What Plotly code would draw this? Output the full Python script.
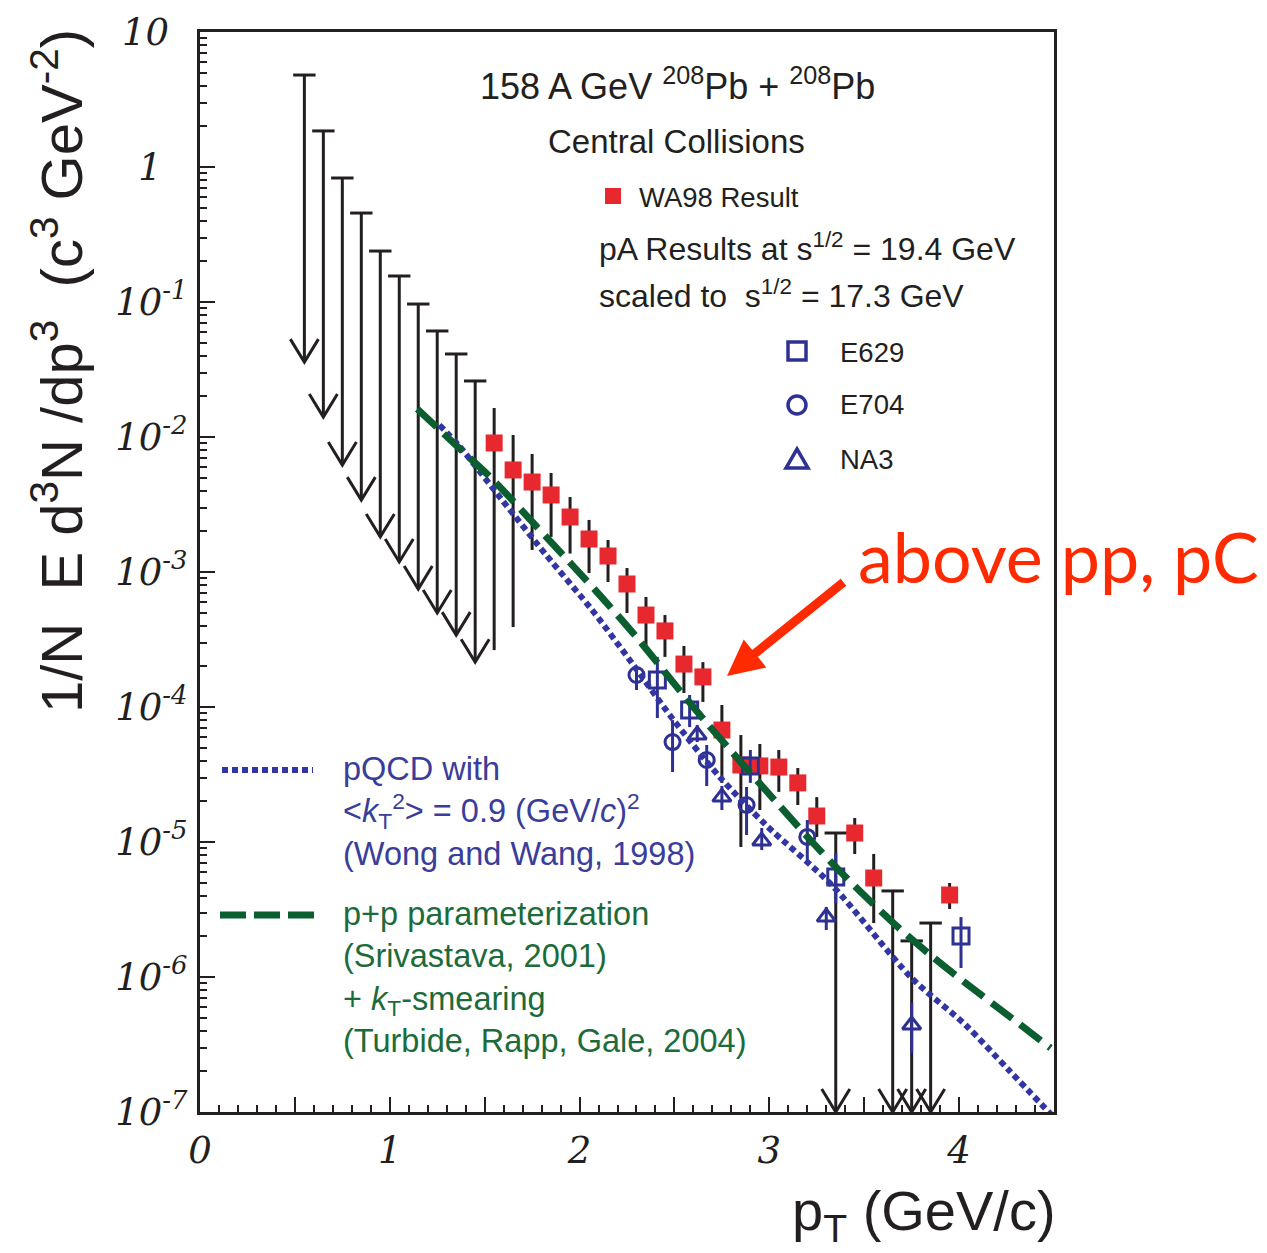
import plotly.graph_objects as go

# ---------------- data ----------------
# WA98 photon points (pT, value, lower end of error bar, upper end)
wa98_x  = [1.55, 1.65, 1.75, 1.85, 1.95, 2.05, 2.15, 2.25, 2.35, 2.45, 2.55, 2.65,
           2.75, 2.85, 2.95, 3.05, 3.15, 3.25, 3.45, 3.55, 3.95]
wa98_y  = [9.03e-3, 5.70e-3, 4.64e-3, 3.72e-3, 2.555e-3, 1.756e-3, 1.314e-3, 8.15e-4,
           4.80e-4, 3.66e-4, 2.08e-4, 1.67e-4, 6.75e-5, 3.72e-5, 3.66e-5, 3.59e-5,
           2.74e-5, 1.558e-5, 1.166e-5, 5.41e-6, 4.05e-6]
wa98_lo = [2.64e-4, 3.91e-4, 1.456e-3, 1.82e-3, 1.37e-3, 9.83e-4, 8.43e-4, 4.97e-4,
           2.78e-4, 2.35e-4, 1.27e-4, 1.09e-4, 2.74e-5, 9.18e-6, 1.726e-5, 2.35e-5,
           1.88e-5, 1.09e-5, 8.15e-6, 2.51e-6, 3.19e-6]
wa98_hi = [1.64e-2, 1.035e-2, 7.48e-3, 5.41e-3, 3.59e-3, 2.43e-3, 1.726e-3, 1.07e-3,
           6.53e-4, 4.80e-4, 2.83e-4, 2.15e-4, 1.035e-4, 6.2e-5, 5.32e-5, 4.8e-5,
           3.53e-5, 2.15e-5, 1.505e-5, 8.15e-6, 4.97e-6]

# WA98 upper limits (pT, top of bar, end of downward arrow)
ul_x   = [0.55, 0.65, 0.75, 0.85, 0.95, 1.05, 1.15, 1.25, 1.35, 1.45,
          3.35, 3.65, 3.75, 3.85]
ul_top = [4.80, 1.85, 0.829, 0.456, 0.2385, 0.1558, 0.0966, 0.0610, 0.0412, 0.0260,
          1.166e-5, 4.34e-6, 1.85e-6, 2.51e-6]
ul_tip = [0.0359, 0.01406, 0.0062, 0.00341, 0.00182, 0.001186, 0.000748, 0.000497,
          0.000341, 0.000215, 1e-7, 1e-7, 1e-7, 1e-7]

# pA results scaled to sqrt(s)=17.3 GeV
e629_x  = [2.41, 2.58, 2.90, 3.35, 4.01]
e629_y  = [1.585e-4, 9.5e-5, 3.66e-5, 5.5e-6, 2.01e-6]
e629_lo = [8.29e-5, 7.1e-5, 2.74e-5, 3.53e-6, 1.166e-6]
e629_hi = [2.35e-4, 1.227e-4, 4.8e-5, 8.29e-6, 2.78e-6]

e704_x  = [2.30, 2.49, 2.67, 2.88, 3.20]
e704_y  = [1.726e-4, 5.5e-5, 4.05e-5, 1.88e-5, 1.09e-5]
e704_lo = [1.337e-4, 3.3e-5, 2.6e-5, 1.127e-5, 6.99e-6]
e704_hi = [1.98e-4, 8.0e-5, 5.23e-5, 2.555e-5, 1.456e-5]

na3_x  = [2.62, 2.75, 2.96, 3.30, 3.75]
na3_y  = [6.2e-5, 2.15e-5, 1.017e-5, 2.78e-6, 4.41e-7]
na3_lo = [5.5e-5, 1.726e-5, 8.72e-6, 2.23e-6, 2.74e-7]
na3_hi = [7.35e-5, 2.6e-5, 1.27e-5, 3.3e-6, 6.42e-7]

# theory curves
pqcd_x = [1.261, 1.366, 1.592, 1.824, 2.066, 2.276, 2.487, 2.734, 2.982, 3.329,
          3.75, 4.034, 4.261, 4.492]
pqcd_y = [1.227e-2, 8.58e-3, 3.41e-3, 1.336e-3, 5.23e-4, 2.118e-4, 8.29e-5, 3.08e-5,
          1.336e-5, 4.80e-6, 9.83e-7, 4.41e-7, 2.05e-7, 9.34e-8]
pp_x = [1.145, 1.376, 1.545, 1.761, 1.971, 2.139, 2.313, 2.534, 2.666, 2.803, 3.05,
        3.245, 3.35, 3.471, 3.682, 3.855, 4.034, 4.276, 4.482]
pp_y = [1.612e-2, 8.01e-3, 4.80e-3, 2.268e-3, 1.089e-3, 5.99e-4, 3.134e-4, 1.292e-4,
        7.74e-5, 4.64e-5, 1.88e-5, 9.34e-6, 6.53e-6, 4.41e-6, 2.31e-6, 1.431e-6,
        9.03e-7, 4.97e-7, 2.98e-7]

# axis ticks
x_tickvals = [0, 0.5, 1, 1.5, 2, 2.5, 3, 3.5, 4, 4.5]
x_ticktext = ["0", "", "1", "", "2", "", "3", "", "4", ""]
y_tickvals = [1e-7, 1e-6, 1e-5, 1e-4, 1e-3, 1e-2, 1e-1, 1, 10]
y_ticktext = ["10<sup>-7</sup>", "10<sup>-6</sup>", "10<sup>-5</sup>", "10<sup>-4</sup>",
              "10<sup>-3</sup>", "10<sup>-2</sup>", "10<sup>-1</sup>",
              "1\u2002\u2009", "10\u2002"]

# legend texts
pqcd_label = ["pQCD with",
              "&lt;<i>k</i><sub>T</sub><sup>2</sup>&gt; = 0.9 (GeV/<i>c</i>)<sup>2</sup>",
              "(Wong and Wang, 1998)"]
pp_label = ["p+p parameterization", "(Srivastava, 2001)",
            "+ <i>k</i><sub>T</sub>-smearing", "(Turbide, Rapp, Gale, 2004)"]

# ---------------- styling ----------------
W, H = 1267, 1253
L, R, T, B = 200, 1054, 32, 1112
INK = "#231f20"
RED = "#E8282F"
BLUE = "#2E3192"
BLUE_LINE = "#3236A2"
BLUE_TXT = "#3A3D9A"
GREEN = "#0B5E2F"
GREEN_TXT = "#1C6B3A"
ANN_RED = "#FF2A00"
SANS = "Liberation Sans"
TICKFONT = dict(family="DejaVu Serif", size=37, color=INK, style="italic")
ARM_DX = 0.074     # half width of the arrow head (GeV)
ARM_DEC = 0.17     # height of the arrow head (decades)


def px(x):
    return (x - L) / (R - L)


def py(y):
    return (B - y) / (B - T)


def asym(y, lo, hi):
    return dict(type="data", symmetric=False,
                array=[h - v for v, h in zip(y, hi)],
                arrayminus=[v - l for v, l in zip(y, lo)])


fig = go.Figure()

# upper limits: vertical bars
seg_x, seg_y = [], []
for x, a, b in zip(ul_x, ul_top, ul_tip):
    seg_x += [x, x, None]
    seg_y += [a, b, None]
fig.add_trace(go.Scatter(x=seg_x, y=seg_y, mode="lines",
                         line=dict(color=INK, width=3), showlegend=False,
                         hoverinfo="skip"))
# arrow heads
v_x, v_y = [], []
for x, t in zip(ul_x, ul_tip):
    v_x += [x - ARM_DX, x, x + ARM_DX, None]
    v_y += [t * 10 ** ARM_DEC, t, t * 10 ** ARM_DEC, None]
fig.add_trace(go.Scatter(x=v_x, y=v_y, mode="lines",
                         line=dict(color=INK, width=3), showlegend=False,
                         hoverinfo="skip"))
# caps
fig.add_trace(go.Scatter(x=ul_x, y=ul_top, mode="markers",
                         marker=dict(symbol="line-ew", size=16,
                                     line=dict(width=3, color=INK)),
                         showlegend=False, cliponaxis=False))

# WA98 points
e = asym(wa98_y, wa98_lo, wa98_hi)
e.update(color=INK, thickness=3, width=0)
fig.add_trace(go.Scatter(x=wa98_x, y=wa98_y, mode="markers", name="WA98 Result",
                         marker=dict(symbol="square", size=17, color=RED,
                                     line=dict(width=0)),
                         error_y=e, showlegend=False))

# pA points
for xs, ys, lo, hi, sym, sz, nm in [
        (e629_x, e629_y, e629_lo, e629_hi, "square-open", 16, "E629"),
        (e704_x, e704_y, e704_lo, e704_hi, "circle-open", 15, "E704"),
        (na3_x, na3_y, na3_lo, na3_hi, "triangle-up-open", 16, "NA3")]:
    e = asym(ys, lo, hi)
    e.update(color=BLUE, thickness=3, width=0)
    fig.add_trace(go.Scatter(x=xs, y=ys, mode="markers", name=nm,
                             marker=dict(symbol=sym, size=sz, color=BLUE,
                                         line=dict(width=3, color=BLUE)),
                             error_y=e, showlegend=False))

# theory curves
fig.add_trace(go.Scatter(x=pqcd_x, y=pqcd_y, mode="lines", name="pQCD",
                         line=dict(color=BLUE_LINE, width=6, dash="6px,4px",
                                   shape="spline", smoothing=0.8),
                         showlegend=False))
fig.add_trace(go.Scatter(x=pp_x, y=pp_y, mode="lines", name="p+p",
                         line=dict(color=GREEN, width=7, dash="26px,10px",
                                   shape="spline", smoothing=0.8),
                         showlegend=False))

# ---------------- legend keys (shapes) ----------------
shapes = []


def pix_shape(kind, cx, cy, hw, hh, **kw):
    d = dict(type=kind, xref="paper", yref="paper", xsizemode="pixel",
             ysizemode="pixel", xanchor=px(cx), yanchor=py(cy),
             x0=-hw, x1=hw, y0=-hh, y1=hh)
    d.update(kw)
    return d


shapes.append(pix_shape("rect", 613, 196, 8, 8, fillcolor=RED,
                        line=dict(width=0)))
shapes.append(pix_shape("rect", 797, 351, 9, 9, line=dict(color=BLUE, width=3.5)))
shapes.append(pix_shape("circle", 797, 405, 9, 9, line=dict(color=BLUE, width=3.5)))
shapes.append(dict(type="path", xref="paper", yref="paper", xsizemode="pixel",
                   ysizemode="pixel", xanchor=px(797), yanchor=py(459),
                   path="M -11,-9 L 11,-9 L 0,10 Z",
                   line=dict(color=BLUE, width=3.5)))
shapes.append(dict(type="line", xref="paper", yref="paper",
                   x0=px(222), x1=px(313), y0=py(770), y1=py(770),
                   line=dict(color=BLUE_LINE, width=6, dash="6px,4px")))
shapes.append(dict(type="line", xref="paper", yref="paper",
                   x0=px(220), x1=px(314), y0=py(915), y1=py(915),
                   line=dict(color=GREEN, width=7, dash="26px,8px")))

# ---------------- text ----------------
ann = []


def txt(s, x, y, size, color=INK, xanchor="left", family=SANS, yanchor="middle", **kw):
    d = dict(text=s, xref="paper", yref="paper", x=px(x), y=py(y),
             xanchor=xanchor, yanchor=yanchor, showarrow=False,
             font=dict(family=family, size=size, color=color))
    d.update(kw)
    ann.append(d)


txt("158 A GeV <sup>208</sup>Pb + <sup>208</sup>Pb", 677, 84, 36, xanchor="center")
txt("Central Collisions", 676, 141, 33, xanchor="center")
txt("WA98 Result", 637, 197, 27.5)
txt("pA Results at s<sup>1/2</sup> = 19.4 GeV", 597, 247, 32)
txt("scaled to \u00a0s<sup>1/2</sup> = 17.3 GeV", 597, 294, 32)
txt("E629", 838, 352, 27.5)
txt("E704", 838, 405, 27.5)
txt("NA3", 838, 459, 27.5)

LEG = 32.5
txt("<br>".join(pqcd_label), 341, 749, LEG, color=BLUE_TXT, yanchor="top",
    align="left")
txt("<br>".join(pp_label), 341, 894, LEG, color=GREEN_TXT, yanchor="top",
    align="left")

txt("above pp, pC", 856, 556, 70, color=ANN_RED, family="Lato")

# axis titles
txt("1/N \u00a0E d<sup>3</sup>N /dp<sup>3</sup> \u00a0(c<sup>3</sup> GeV<sup>-2</sup>)",
    57, 371, 58, xanchor="center", textangle=-90)
txt("p<sub>T</sub> (GeV/c)", 1058, 1214, 56, xanchor="right")

# red arrow
ann.append(dict(text="", xref="paper", yref="paper", x=px(727), y=py(676),
                ax=118, ay=-95, showarrow=True, arrowhead=2, arrowsize=0.8,
                arrowwidth=9, arrowcolor=ANN_RED, standoff=0, startstandoff=0))

fig.update_layout(
    width=W, height=H,
    margin=dict(l=L, r=W - R, t=T, b=H - B, autoexpand=False),
    paper_bgcolor="white", plot_bgcolor="white",
    shapes=shapes, annotations=ann, showlegend=False,
    xaxis=dict(range=[0, 4.5], tickmode="array", tickvals=x_tickvals,
               ticktext=x_ticktext, ticks="inside", ticklen=15, tickwidth=2,
               tickcolor=INK, showline=True, mirror=True, linewidth=3,
               linecolor=INK, showgrid=False, zeroline=False,
               ticklabelstandoff=4, tickfont=TICKFONT,
               minor=dict(tickmode="linear", tick0=0, dtick=0.1, ticks="inside",
                          ticklen=7, tickwidth=2, tickcolor=INK)),
    yaxis=dict(type="log", range=[-7, 1], tickmode="array", tickvals=y_tickvals,
               ticktext=y_ticktext, ticks="inside", ticklen=15, tickwidth=2,
               tickcolor=INK, showline=True, mirror=True, linewidth=3,
               linecolor=INK, showgrid=False, zeroline=False,
               ticklabelstandoff=2, tickfont=TICKFONT,
               minor=dict(dtick="D1", ticks="inside", ticklen=7, tickwidth=2,
                          tickcolor=INK)),
)

fig.write_html("out.html")
